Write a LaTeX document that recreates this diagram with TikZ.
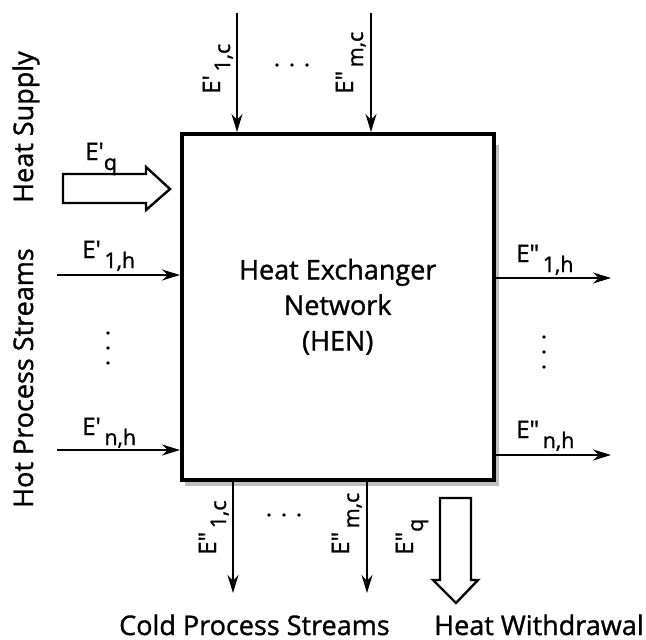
\documentclass[tikz,border=0pt]{standalone}
\usepackage{fontspec}
\usetikzlibrary{arrows.meta}
\newfontfamily\lab{Open Sans}[FakeBold=1.2]
\newcommand{\sbx}[1]{\raisebox{-10pt}{\fontsize{21.5}{24}\selectfont #1}}
\begin{document}
\begin{tikzpicture}[x=1pt,y=-1pt,
  big/.style={font=\lab\fontsize{27}{35.5}\selectfont, inner sep=0pt},
  lbl/.style={font=\lab\fontsize{24}{27}\selectfont, inner sep=0pt, anchor=base west},
  rlbl/.style={lbl, rotate=90},
  flow/.style={line width=2pt,-{Stealth[length=18pt,width=11pt]}},
  hollow/.style={line width=2.4pt, fill=white, line join=miter},
  dot/.style={fill=black}]
\useasboundingbox (0,0) rectangle (646,640);
% shadow
\fill[gray!50] (492,145) rectangle (499,486);
\fill[gray!50] (185,478) rectangle (499,486);
% box
\node[draw, line width=3.5pt, minimum width=312pt, minimum height=346pt, inner sep=0pt, anchor=north west] (hen) at (180,132) {};
\node[big, align=center] (hentxt) at (hen.center) {Heat Exchanger\\ Network\\ (HEN)};
% side labels
\node[big, rotate=90, anchor=base west] (hs) at (33,203) {Heat Supply};
\node[big, rotate=90, anchor=base west] (hps) at (33,508) {Hot Process Streams};
\node[big, anchor=base west] (cps) at (119,635) {Cold Process Streams};
\node[big, anchor=base west] (hw) at (434,635) {Heat Withdrawal};
% top inputs
\coordinate (t1) at (237,13);
\coordinate (t2) at (371,13);
\draw[flow] (t1) -- (t1 |- hen.north);
\draw[flow] (t2) -- (t2 |- hen.north);
\node[rlbl] (lt1) at (220,94) {E'\sbx{\,1,c}};
\node[rlbl] (lt2) at (353,94) {E"\sbx{\,m,c}};
\fill[dot] (277,65) circle (1.9pt) (292,65) circle (1.9pt) (307,65) circle (1.9pt);
% heat supply
\draw[hollow] (63,174) -- (146,174) -- (146,167) -- (170,189) -- (146,210) -- (146,203) -- (63,203) -- cycle;
\node[lbl] (lq) at (85,160) {E'\sbx{q}};
% hot inputs
\coordinate (h1) at (57,275);
\coordinate (h2) at (57,450);
\draw[flow] (h1) -- (h1 -| hen.west);
\draw[flow] (h2) -- (h2 -| hen.west);
\node[lbl] (lh1) at (82,258) {E'\sbx{\,1,h}};
\node[lbl] (lh2) at (82,435) {E'\sbx{\,n,h}};
\fill[dot] (108,333) circle (1.9pt) (108,348) circle (1.9pt) (108,363) circle (1.9pt);
% hot outputs
\coordinate (o1) at (611,278);
\coordinate (o2) at (611,455);
\draw[flow] (o1 -| hen.east) -- (o1);
\draw[flow] (o2 -| hen.east) -- (o2);
\node[lbl] (lo1) at (516,262) {E"\sbx{\,1,h}};
\node[lbl] (lo2) at (516,438) {E"\sbx{\,n,h}};
\fill[dot] (544,337) circle (1.9pt) (544,352) circle (1.9pt) (544,367) circle (1.9pt);
% bottom outputs
\coordinate (b1) at (233,593);
\coordinate (b2) at (367,593);
\draw[flow] (b1 |- hen.south) -- (b1);
\draw[flow] (b2 |- hen.south) -- (b2);
\node[rlbl] (lb1) at (216,555) {E"\sbx{\,1,c}};
\node[rlbl] (lb2) at (349,555) {E"\sbx{\,m,c}};
\fill[dot] (269,515) circle (1.9pt) (284,515) circle (1.9pt) (299,515) circle (1.9pt);
% heat withdrawal
\draw[hollow] (440,498) -- (471,498) -- (471,580) -- (478,580) -- (456,603) -- (433,580) -- (440,580) -- cycle;
\node[rlbl] (lwq) at (413,555) {E"\sbx{q}};
\end{tikzpicture}
\end{document}
